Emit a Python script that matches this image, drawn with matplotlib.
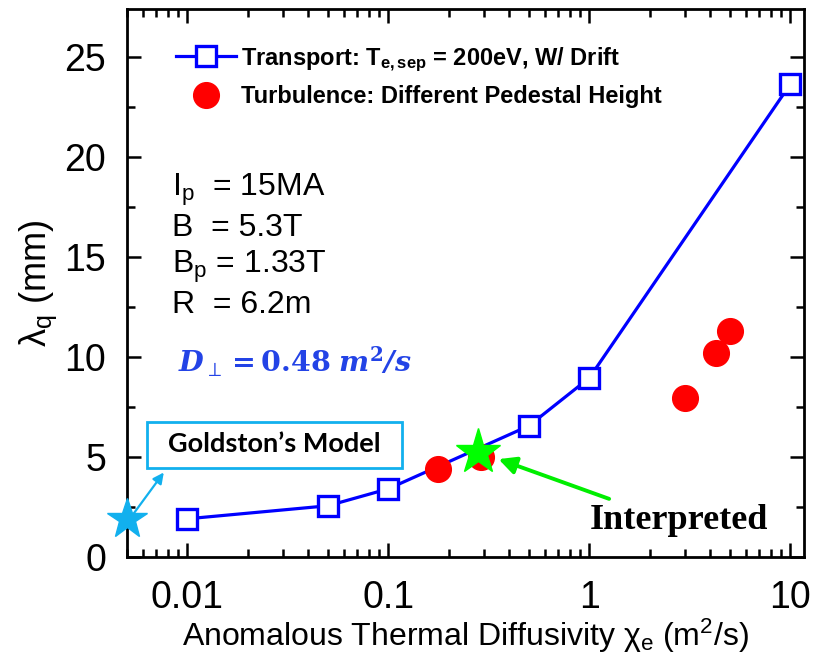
import numpy as np
import matplotlib
matplotlib.use("Agg")
import matplotlib.pyplot as plt
from matplotlib.patches import Rectangle

plt.rcParams['font.family'] = ['Liberation Sans', 'DejaVu Sans']
plt.rcParams['mathtext.fontset'] = 'custom'
plt.rcParams['mathtext.rm'] = 'Liberation Sans'
plt.rcParams['mathtext.it'] = 'Liberation Sans:italic'
plt.rcParams['mathtext.bf'] = 'Liberation Sans:bold'

# transport scan (with drifts)
chi_transport = [0.01, 0.05, 0.1, 0.5, 1.0, 10.0]
lam_transport = [1.9, 2.55, 3.4, 6.55, 8.95, 23.65]

# turbulence runs, different pedestal heights
chi_turb = [0.176, 0.29, 3.0, 4.27, 5.0]
lam_turb = [4.4, 5.0, 7.95, 10.2, 11.3]

# reference points
chi_interp, lam_interp = 0.278, 5.25
chi_goldston, lam_goldston = 0.005, 1.9

params = ["I$_\\mathrm{p}$  = 15MA", "B  = 5.3T", "B$_\\mathrm{p}$ = 1.33T", "R  = 6.2m"]

fig = plt.figure(figsize=(8.13, 6.55), dpi=100)
ax = fig.add_axes([0.156, 0.150, 0.833, 0.836])

ax.plot(chi_transport, lam_transport, color='#0000ff', lw=2.3, marker='s', ms=14,
        mfc='white', mec='#0000ff', mew=2.4,
        label='Transport: T$_{\\mathbf{e,sep}}$ = 200eV, W/ Drift', zorder=3)
ax.plot(chi_turb, lam_turb, ls='none', marker='o', ms=18.5, color='#ff0000',
        label='Turbulence: Different Pedestal Height', zorder=4)
ax.plot(chi_interp, lam_interp, ls='none', marker='*', ms=34, color='#00ff00', zorder=5)
ax.plot(chi_goldston, lam_goldston, ls='none', marker='*', ms=30, color='#12b0ee',
        zorder=6, clip_on=False)

ax.set_xscale('log')
ax.set_xlim(0.005, 11.7)
ax.set_ylim(0, 27.4)
ax.set_xticks([0.01, 0.1, 1, 10])
ax.set_xticklabels(['0.01', '0.1', '1', '10'])
ax.set_yticks([0, 5, 10, 15, 20, 25])
ax.set_yticks(np.arange(2.5, 27.4, 5), minor=True)

for s in ax.spines.values():
    s.set_linewidth(2)
ax.tick_params(which='both', direction='in', top=True, right=True, width=1.8)
ax.tick_params(which='major', length=10, labelsize=27)
ax.tick_params(which='minor', length=6)
ax.tick_params(axis='x', which='major', pad=17)
ax.tick_params(axis='y', which='major', pad=15)

ax.set_xlabel('Anomalous Thermal Diffusivity \u03c7$_\\mathrm{e}$ (m$^2$/s)', fontsize=23, labelpad=0)
ax.set_ylabel('\u03bb$_\\mathrm{q}$ (mm)', fontsize=26, labelpad=4)

leg = ax.legend(loc='upper left', bbox_to_anchor=(0.041, 0.973), frameon=False,
                handlelength=2.55, handletextpad=0.2, labelspacing=0.5,
                prop={'weight': 'bold', 'size': 17})

for i, t in enumerate(params):
    ax.text(0.066, 0.67 - i * 0.07, t, transform=ax.transAxes, fontsize=23,
            va='center', ha='left')

ax.text(0.075, 0.356, r'$\mathbfit{D}_{\perp}\mathbf{=0.48}\ \mathbfit{m}^\mathbf{2}\mathbfit{/s}$',
        transform=ax.transAxes, fontsize=20.5, color='#2343e6', va='center', ha='left',
        math_fontfamily='dejavuserif')

# Goldston's model callout
ax.add_patch(Rectangle((0.0295, 0.162), 0.377, 0.084, transform=ax.transAxes,
                       fill=False, ec='#12b0ee', lw=2, zorder=6))
ax.text(0.218, 0.206, "Goldston\u2019s Model", transform=ax.transAxes, fontsize=19.5,
        fontweight='bold', family=['Lato', 'DejaVu Sans'], ha='center', va='center')
ax.annotate('', xy=(0.057, 0.158), xytext=(0.006, 0.072), xycoords='axes fraction',
            arrowprops=dict(arrowstyle='-|>', color='#12b0ee', lw=1.6, mutation_scale=16),
            zorder=7, annotation_clip=False)

# interpreted point callout
ax.annotate('', xy=(0.545, 0.18), xytext=(0.716, 0.104), xycoords='axes fraction',
            arrowprops=dict(arrowstyle='-|>', color='#00ee00', lw=2.8, mutation_scale=26))
ax.text(0.815, 0.067, 'Interpreted', transform=ax.transAxes, fontsize=26,
        fontweight='bold', family=['Liberation Serif', 'DejaVu Serif'],
        ha='center', va='center')

fig.savefig('out.png', dpi=100)
